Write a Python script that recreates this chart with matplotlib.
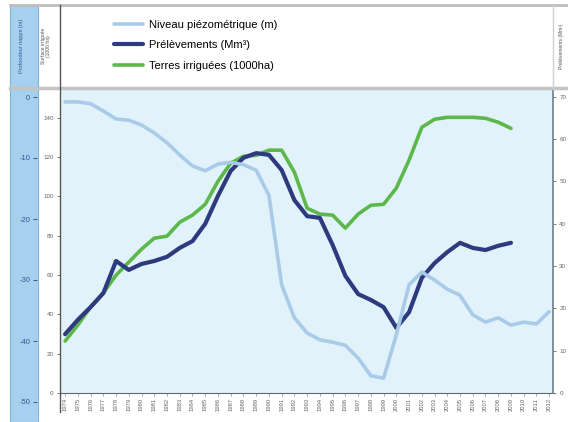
import matplotlib
matplotlib.use("Agg")
import matplotlib.pyplot as plt
from matplotlib.patches import Rectangle
from matplotlib.lines import Line2D

plt.rcParams['font.family'] = ['Liberation Sans', 'DejaVu Sans']

years = list(range(1974, 2013))
year_labels = [str(y) for y in years]

piezo_years = list(range(1974, 2013))
piezo = [-0.8, -0.8, -1.1, -2.3, -3.6, -3.8, -4.6, -5.9, -7.5, -9.5,
         -11.3, -12.1, -11.0, -10.7, -11.1, -12.0, -16.1, -30.8, -36.2, -38.7,
         -39.8, -40.2, -40.7, -42.8, -45.7, -46.1, -39.0, -30.8, -28.7, -30.0,
         -31.5, -32.5, -35.7, -36.9, -36.2, -37.4, -36.9, -37.2, -35.2]

prel_years = list(range(1974, 2010))
prelevements = [13.9, 17.3, 20.3, 23.6, 31.2, 29.1, 30.5, 31.2, 32.2, 34.3,
                35.9, 40.0, 46.6, 52.5, 55.6, 56.7, 56.3, 52.7, 45.6, 41.8,
                41.4, 35.0, 27.7, 23.4, 22.0, 20.3, 15.4, 19.1, 27.2, 30.7,
                33.3, 35.5, 34.3, 33.8, 34.8, 35.5]

terres_years = list(range(1974, 2010))
terres = [26.4, 34.5, 43.7, 50.8, 59.9, 66.5, 73.1, 78.7, 79.7, 86.8,
          90.4, 95.9, 107.6, 116.8, 120.3, 120.8, 123.4, 123.4, 112.2, 93.9,
          90.9, 90.4, 83.8, 90.9, 95.4, 95.9, 104.1, 118.3, 135.0, 139.1,
          140.1, 140.1, 140.1, 139.6, 137.6, 134.5]

left_ticks = [0, 20, 40, 60, 80, 100, 120, 140]
right_ticks = [0, 10, 20, 30, 40, 50, 60, 70]
piezo_ticks = [0, -10, -20, -30, -40, -50]

W, H = 568, 422
def fx(px): return px / W
def fy(py): return 1 - py / H

fig = plt.figure(figsize=(W/100, H/100), dpi=100)
fig.patch.set_facecolor('white')

# blue strip and frame elements
fig.patches.append(Rectangle((fx(10), 0), fx(28), fy(5), transform=fig.transFigure,
                             facecolor='#a6d0ee', edgecolor='#7fb3da', lw=0.8, zorder=0))
fig.add_artist(Line2D([fx(10), 1], [fy(5), fy(5)], color='#bdbdbd', lw=2.0))
fig.add_artist(Line2D([fx(10), 1], [fy(88), fy(88)], color='#c4c4c4', lw=2.5))
fig.add_artist(Line2D([fx(60), fx(60)], [fy(5), fy(412)], color='#555555', lw=1.0))
fig.add_artist(Line2D([fx(553), fx(553)], [fy(5), fy(88)], color='#d0d0d0', lw=1.0))

# main axes
x0, x1 = 1973.6, 2012.3
ax = fig.add_axes([fx(60), fy(393), fx(493), fy(88) - fy(393)])
ax.set_facecolor('#e1f2fb')
ax.set_xlim(x0, x1)
ax.set_ylim(0, 155)
ax.plot(terres_years, terres, color='#5cb84a', lw=2.6, solid_joinstyle='round',
        solid_capstyle='round', zorder=3, label='Terres irriguées (1000ha)')
ax.set_yticks(left_ticks)
ax.set_xticks(years)
ax.set_xticklabels(year_labels, rotation=90, fontsize=4.2, color='#666666')
ax.tick_params(axis='y', labelsize=4.5, labelcolor='#666666', length=2.5, width=0.6,
               color='#666666', pad=2)
ax.tick_params(axis='x', length=2, width=0.5, color='#888888', pad=1.5)
for s in ['top', 'right']:
    ax.spines[s].set_visible(False)
ax.spines['left'].set_visible(False)
ax.spines['bottom'].set_color('#666666')
ax.spines['bottom'].set_linewidth(0.8)

axr = ax.twinx()
axr.set_ylim(0, 72.1)
axr.plot(prel_years, prelevements, color='#2d3a7e', lw=3.0, solid_joinstyle='round',
         solid_capstyle='round', zorder=4, label='Prélèvements (Mm³)')
axr.set_yticks(right_ticks)
axr.tick_params(axis='y', labelsize=4.5, labelcolor='#666666', length=2.5, width=0.6,
                color='#666666', pad=2)
for s in ['top', 'left', 'bottom']:
    axr.spines[s].set_visible(False)
axr.spines['right'].set_color('#6d7f8c')
axr.spines['right'].set_linewidth(1.2)

axp = ax.twinx()
axp.set_ylim(-(393 - 97) / 6.1, (97 - 88) / 6.1)
axp.plot(piezo_years, piezo, color='#a9cbe8', lw=2.6, solid_joinstyle='round',
         solid_capstyle='round', zorder=2, label='Niveau piézométrique (m)')
axp.axis('off')

# piezometric axis in blue strip
axs = fig.add_axes([fx(37), 0, 0.0005, fy(88)])
axs.set_zorder(10)
axs.set_ylim(-(422 - 97) / 6.1, (97 - 88) / 6.1)
axs.set_xticks([])
axs.set_yticks(piezo_ticks)
axs.set_yticklabels([str(t) for t in piezo_ticks])
axs.tick_params(axis='y', labelsize=5.5, labelcolor='#2f5b94', length=3, width=0.7,
                color='#2f5b94', pad=2)
for s in axs.spines.values():
    s.set_visible(False)
axs.patch.set_alpha(0)

# header axis titles
fig.text(fx(21), fy(46), 'Profondeur nappe (m)', rotation=90, ha='center', va='center',
         fontsize=4, color='#2f5b94', zorder=10)
fig.text(fx(46), fy(46), 'Surface irriguée\n(1000 ha)', rotation=90, ha='center', va='center',
         fontsize=3.6, color='#555555', linespacing=1.1)
fig.text(fx(561), fy(46), 'Prélèvements (Mm³)', rotation=90, ha='center', va='center',
         fontsize=3.6, color='#555555')

handles = [axp.get_lines()[0], axr.get_lines()[0], ax.get_lines()[0]]
fig.legend(handles=handles, labels=[h.get_label() for h in handles],
           loc='upper left', bbox_to_anchor=(fx(106), fy(12)), frameon=False,
           fontsize=8, handlelength=2.6, handletextpad=0.6, labelspacing=0.95,
           borderpad=0.2)

fig.savefig('out.png', dpi=100)
